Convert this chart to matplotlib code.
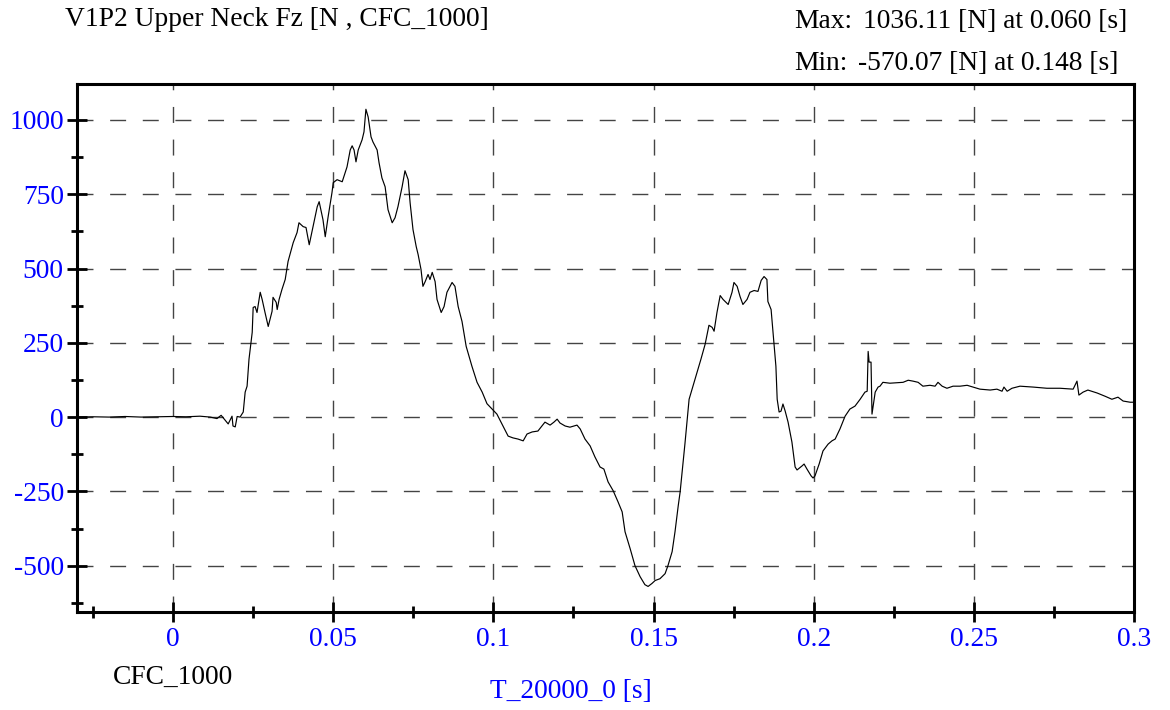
import matplotlib
matplotlib.use('Agg')
import matplotlib.pyplot as plt
from matplotlib.ticker import MultipleLocator

# время [s] и сила Fz [N]
t = [-0.030, -0.025, -0.020, -0.015, -0.010, -0.005, 0.000, 0.004, 0.0084,
     0.0116, 0.0137, 0.0150, 0.0162, 0.0172, 0.0184, 0.0187, 0.0194, 0.0200,
     0.0209, 0.0219, 0.0225, 0.0231, 0.0237, 0.0247, 0.0250, 0.0256, 0.0262,
     0.0272, 0.0278, 0.0287, 0.0297, 0.0309, 0.0312, 0.0322, 0.0325, 0.0331,
     0.0340, 0.0350, 0.0359, 0.0375, 0.0387, 0.0393, 0.0406, 0.0415, 0.0425,
     0.0437, 0.0450, 0.0456, 0.0468, 0.0475, 0.0484, 0.0496, 0.0500, 0.0512,
     0.0528, 0.0543, 0.0553, 0.0559, 0.0565, 0.0571, 0.0578, 0.0590, 0.0596,
     0.0602, 0.0609, 0.0618, 0.0624, 0.0637, 0.0643, 0.0652, 0.0662, 0.0671,
     0.0684, 0.0693, 0.0702, 0.0715, 0.0724, 0.0734, 0.0740, 0.0749, 0.0759,
     0.0765, 0.0774, 0.0780, 0.0787, 0.0796, 0.0802, 0.0809, 0.0818, 0.0824,
     0.0837, 0.0846, 0.0855, 0.0871, 0.0880, 0.0890, 0.0902, 0.0915, 0.0933,
     0.0949, 0.0965, 0.0980, 0.0996, 0.1011, 0.1030, 0.1046, 0.1061, 0.1077,
     0.1093, 0.1105, 0.1121, 0.1139, 0.1161, 0.1177, 0.1189, 0.1199, 0.1208,
     0.1224, 0.1239, 0.1261, 0.1271, 0.1286, 0.1302, 0.1317, 0.1333, 0.1345,
     0.1358, 0.1374, 0.1389, 0.1402, 0.1411, 0.1427, 0.1442, 0.1458, 0.1473,
     0.1483, 0.1495, 0.1505, 0.1520, 0.1536, 0.1545, 0.1558, 0.1567, 0.1577,
     0.1583, 0.1598, 0.1611, 0.1623, 0.1636, 0.1648, 0.1661, 0.1673,
     0.1683, 0.1689, 0.1698, 0.1708, 0.1717, 0.1733, 0.1745, 0.1751, 0.1761,
     0.1770, 0.1779, 0.1792, 0.1801, 0.1814, 0.1826, 0.1836, 0.1845, 0.1854,
     0.1857, 0.1867, 0.1873, 0.1882, 0.1886, 0.1892, 0.1898, 0.1904, 0.1911,
     0.1920, 0.1932, 0.1942, 0.1948, 0.1964, 0.1970, 0.1979, 0.1992, 0.1998,
     0.2004, 0.2017, 0.2029, 0.2045, 0.2057, 0.2067, 0.2082, 0.2098, 0.2113,
     0.2129, 0.2145, 0.2160, 0.2167, 0.2170, 0.2173, 0.2179, 0.2182, 0.2192,
     0.2201, 0.2207, 0.2216, 0.2238, 0.2279, 0.2295, 0.2310, 0.2326, 0.2341,
     0.2363, 0.2379, 0.2388, 0.2401, 0.2416, 0.2435, 0.2457, 0.2479, 0.2497,
     0.2519, 0.2551, 0.2572, 0.2588, 0.2594, 0.2604, 0.2619, 0.2644, 0.2685,
     0.2728, 0.2769, 0.2810, 0.2822, 0.2828, 0.2841, 0.2856, 0.2885, 0.2910,
     0.2931, 0.2950, 0.2966, 0.2988, 0.3000]
fz = [0, 1, 0, 2, 0, 1, 2, 1, 3,
      0, -5, 6, -10, -23, 3, -30, -33, 2,
      0, 17, 84, 104, 195, 285, 369, 372, 352,
      420, 396, 352, 305, 356, 403, 386, 362, 396,
      430, 463, 524, 587, 621, 654, 641, 638, 580,
      641, 708, 725, 664, 607, 674, 755, 789, 799,
      792, 842, 899, 913, 899, 859, 899, 933, 960,
      1036, 1010, 943, 926, 899, 856, 805, 775, 698,
      654, 671, 708, 775, 829, 799, 721, 631, 574,
      547, 497, 440, 456, 480, 463, 487, 456, 396,
      352, 372, 420, 453, 440, 372, 322, 238, 171,
      117, 84, 45, 27, 10, -30, -64, -70, -74,
      -80, -57, -50, -47, -17, -27, -17, -7, -20,
      -30, -34, -27, -40, -74, -97, -134, -168, -175,
      -218, -248, -285, -319, -386, -443, -500, -537, -564,
      -570, -560, -550, -544, -527, -500, -453, -386, -299,
      -252, -90, 60, 104, 151, 195, 245, 309,
      302, 289, 352, 409, 396, 379, 420, 453, 440,
      406, 379, 396, 420, 426, 423, 460, 473, 463,
      389, 362, 285, 171, 60, 17, 20, 44, 20,
      -17, -84, -168, -178, -164, -158, -175, -198, -205,
      -198, -158, -114, -91, -80, -74, -40, 3, 27,
      37, 60, 84, 87, 221, 185, 185, 10, 84,
      101, 104, 117, 114, 117, 124, 121, 117, 104,
      107, 104, 117, 104, 97, 104, 104, 107, 101,
      94, 91, 94, 87, 101, 87, 97, 104, 101,
      97, 97, 94, 121, 74, 84, 91, 81, 70,
      60, 67, 54, 50, 50]

x_ticks = [0, 0.05, 0.1, 0.15, 0.2, 0.25, 0.3]
x_labels = ['0', '0.05', '0.1', '0.15', '0.2', '0.25', '0.3']
y_ticks = [-500, -250, 0, 250, 500, 750, 1000]

plt.rcParams['font.family'] = ['Liberation Serif', 'DejaVu Serif']
plt.rcParams['axes.unicode_minus'] = False
FS = 19.8
BLUE = '#0000ff'

fig = plt.figure(figsize=(11.7, 7.1), dpi=100)
ax = fig.add_axes([77 / 1170, 98 / 710, (1134 - 77) / 1170, (612 - 84) / 710])

ax.plot(t, fz, color='black', lw=0.85)

ax.set_xlim(-0.03, 0.3)
ax.set_ylim(-656, 1121)
ax.set_xticks(x_ticks)
ax.set_xticklabels(x_labels)
ax.set_yticks(y_ticks)
ax.xaxis.set_minor_locator(MultipleLocator(0.025))
ax.yaxis.set_minor_locator(MultipleLocator(125))

ax.tick_params(which='major', direction='inout', length=15, width=2, color='black',
               labelsize=FS, labelcolor=BLUE)
ax.tick_params(which='minor', direction='inout', length=8, width=2, color='black')
ax.tick_params(axis='x', which='major', pad=3)
ax.tick_params(axis='y', which='major', pad=2)

for s in ax.spines.values():
    s.set_linewidth(2.2)

ax.grid(True, which='major', color='#444444', lw=1.0, linestyle=(0, (11.5, 12)))

fig.text(65 / 1170, 1 - 19 / 710, 'V1P2 Upper Neck Fz [N , CFC_1000]', fontsize=FS,
         ha='left', va='center')
fig.text(794 / 1170, 1 - 22 / 710, 'Max:', fontsize=FS, ha='left', va='center')
fig.text(1127 / 1170, 1 - 22 / 710, '1036.11 [N] at 0.060 [s]', fontsize=FS, ha='right', va='center')
fig.text(794 / 1170, 1 - 64 / 710, 'Min:', fontsize=FS, ha='left', va='center')
fig.text(1118 / 1170, 1 - 64 / 710, '-570.07 [N] at 0.148 [s]', fontsize=FS, ha='right', va='center')
fig.text(113 / 1170, 1 - 677 / 710, 'CFC_1000', fontsize=FS, ha='left', va='center')
fig.text(571 / 1170, 1 - 692 / 710, 'T_20000_0 [s]', fontsize=FS, ha='center', va='center',
         color=BLUE)

fig.savefig('out.png', dpi=100)
